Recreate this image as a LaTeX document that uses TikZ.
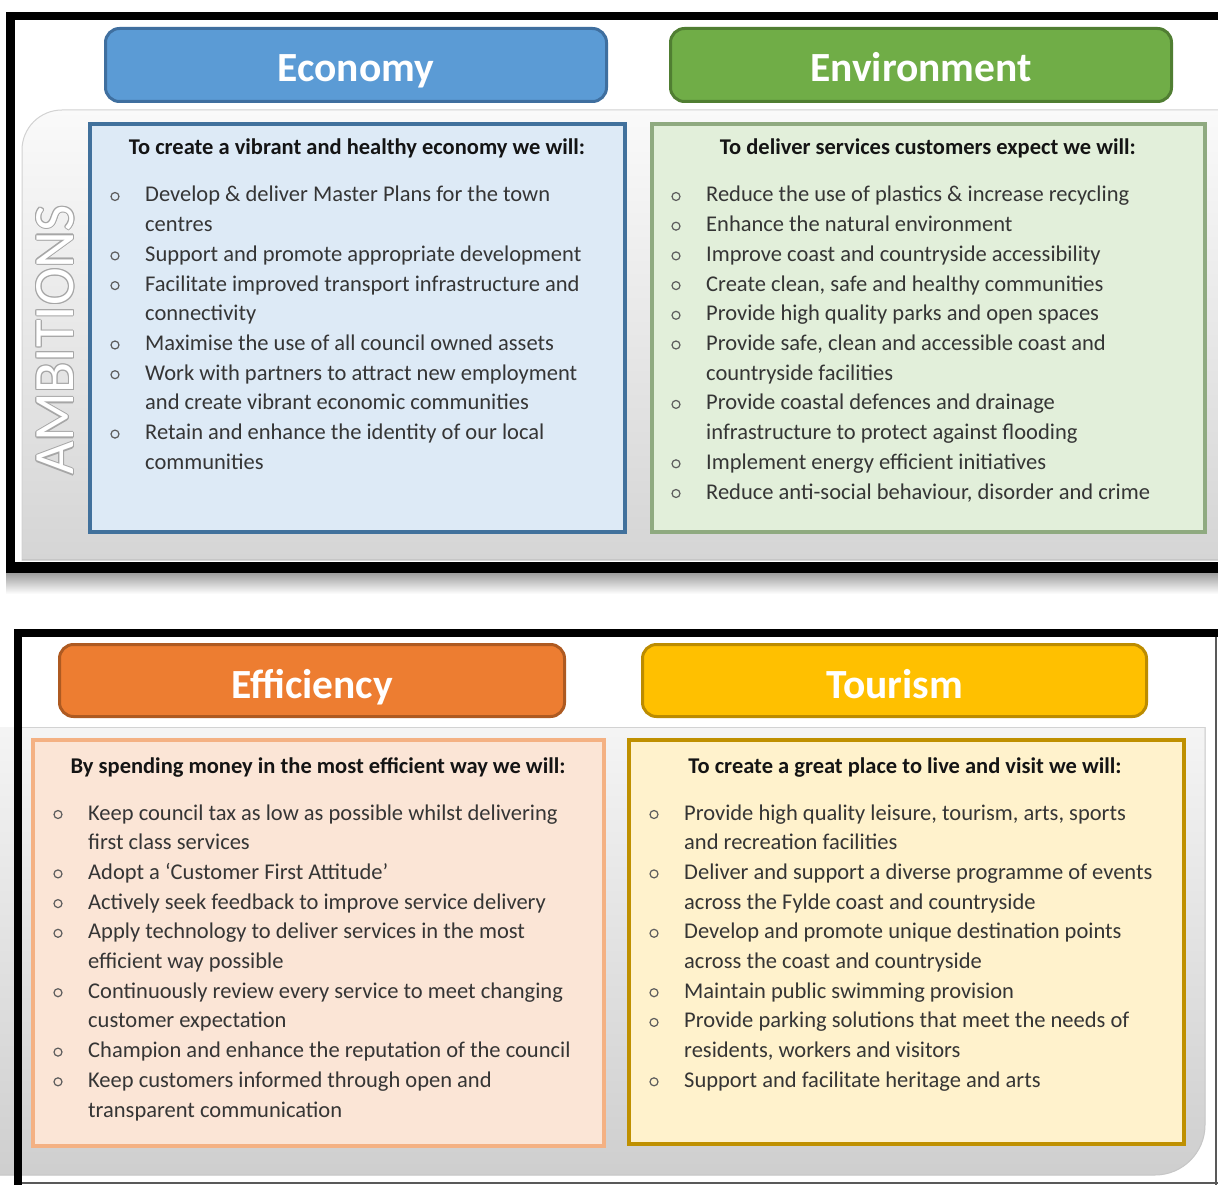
\documentclass[tikz,border=0pt]{standalone}
\usepackage{fontspec}
\setmainfont{Carlito}
\definecolor{txtc}{HTML}{353535}
\definecolor{econF}{HTML}{5B9BD5}\definecolor{econD}{HTML}{3F6F9F}
\definecolor{econBF}{HTML}{DDEAF6}\definecolor{econBD}{HTML}{41719C}
\definecolor{envF}{HTML}{70AD47}\definecolor{envD}{HTML}{507E32}
\definecolor{envBF}{HTML}{E2EFDA}\definecolor{envBD}{HTML}{8FAA80}
\definecolor{effF}{HTML}{ED7D31}\definecolor{effD}{HTML}{AE5A21}
\definecolor{effBF}{HTML}{FBE5D6}\definecolor{effBD}{HTML}{F4B183}
\definecolor{touF}{HTML}{FFC000}\definecolor{touD}{HTML}{BC8C00}
\definecolor{touBF}{HTML}{FFF2CC}\definecolor{touBD}{HTML}{BF9000}
\newcommand\lsk{29.7}
\newcommand\mklines[5]{%
  \foreach \mk/\lt [count=\i from 0] in {#5} {%
    \node[txt] (#1t\i) at ({#3},{#4+\i*\lsk}) {\lt};
    \ifnum\mk=1 \node[bul] (#1b\i) at ({#2},{#4+\i*\lsk-5.5}) {};\fi
  }%
}
\tikzset{
  txt/.style={anchor=base west,inner sep=0pt,text=txtc,font=\fontsize{22.5}{26}\selectfont},
  bul/.style={circle,draw=txtc!80,line width=1.2pt,minimum size=8pt,inner sep=0pt},
  lead/.style={anchor=base,inner sep=0pt,text=black!92,font=\fontsize{22.5}{26}\selectfont\bfseries},
  hdr/.style={rounded corners=14pt,line width=3pt,minimum height=73pt},
  hdrtxt/.style={anchor=base,inner sep=0pt,text=white,font=\fontsize{41.5}{44}\selectfont\bfseries},
  bx/.style={line width=4pt}
}
\begin{document}
\begin{tikzpicture}[x=1pt,y=-1pt]
\useasboundingbox (0,0) rectangle (1218,1185);
\fill[white] (0,0) rectangle (1218,1185);

% ---------- top panel ----------
\shade[top color=black!40,bottom color=white] (6,572) rectangle (1218,594);
\begin{scope}
\clip (0,0) rectangle (1218,560);
\shade[top color=gray!4,bottom color=gray!42,draw=gray!35,line width=1pt,rounded corners=40pt]
  (22,110) rectangle (1300,700);
\end{scope}
\draw[gray!45,line width=1pt] (22,559) -- (1218,559);
\fill[black] (6,12) rectangle (1218,20);
\fill[black] (6,12) rectangle (15,573);
\fill[black] (6,562) rectangle (1218,573);

% AMBITIONS outlined text
\foreach \dx/\dy [count=\k] in {1.1/0,-1.1/0,0/1.1,0/-1.1,0.8/0.8,-0.8/-0.8,0.8/-0.8,-0.8/0.8}
  \node[rotate=90,inner sep=0pt,text=gray!70,font=\fontsize{57}{60}\selectfont] (amb\k) at ({55+\dx},{340+\dy}) {AMBITIONS};
\node[rotate=90,inner sep=0pt,text=white,font=\fontsize{57}{60}\selectfont] (amb) at (55,340) {AMBITIONS};

\node[hdr,fill=econF,draw=econD,minimum width=501pt] (econ) at (356,65) {};
\node[hdr,fill=envF,draw=envD,minimum width=501pt] (env) at (921,65) {};
\node[hdrtxt] (econt) at (356,82) {Economy};
\node[hdrtxt] (envt) at (921,82) {Environment};

\node[bx,fill=econBF,draw=econBD,minimum width=535pt,minimum height=408pt] (econbox) at (357.5,328) {};
\node[bx,fill=envBF,draw=envBD,minimum width=553pt,minimum height=408pt] (envbox) at (928.5,328) {};

\node[lead] (econlead) at (357,155) {To create a vibrant and healthy economy we will:};
\node[lead] (envlead) at (928,155) {To deliver services customers expect we will:};

\mklines{ec}{115}{145}{202}{%
 1/{Develop \& deliver Master Plans for the town},
 0/{centres},
 1/{Support and promote appropriate development},
 1/{Facilitate improved transport infrastructure and},
 0/{connectivity},
 1/{Maximise the use of all council owned assets},
 1/{Work with partners to attract new employment},
 0/{and create vibrant economic communities},
 1/{Retain and enhance the identity of our local},
 0/{communities}}

\mklines{en}{676}{706}{202}{%
 1/{Reduce the use of plastics \& increase recycling},
 1/{Enhance the natural environment},
 1/{Improve coast and countryside accessibility},
 1/{Create clean, safe and healthy communities},
 1/{Provide high quality parks and open spaces},
 1/{Provide safe, clean and accessible coast and},
 0/{countryside facilities},
 1/{Provide coastal defences and drainage},
 0/{infrastructure to protect against flooding},
 1/{Implement energy efficient initiatives},
 1/{Reduce anti-social behaviour, disorder and crime}}

% ---------- bottom panel ----------
\begin{scope}
\clip (0,727) rectangle (1218,1185);
\shade[top color=white,bottom color=gray!38,draw=gray!45,line width=1pt,rounded corners=50pt]
  (-100,600) rectangle (1205,1175);
\end{scope}
\draw[gray!35,line width=1pt] (22,727) -- (1205,727);
\fill[black] (14,629) rectangle (1218,637);
\fill[black] (14,629) rectangle (22,1185);
\draw[gray!70!black,line width=1.2pt] (1216,637) -- (1216,1185);
\draw[gray!70!black,line width=1.5pt] (22,1183) -- (1218,1183);

\node[hdr,fill=effF,draw=effD,minimum width=505pt,minimum height=72pt] (eff) at (312,680.5) {};
\node[hdr,fill=touF,draw=touD,minimum width=504pt,minimum height=72pt] (tou) at (894.5,680.5) {};
\node[hdrtxt] (efft) at (312,698) {Efficiency};
\node[hdrtxt] (tout) at (894.5,698) {Tourism};

\node[bx,fill=effBF,draw=effBD,minimum width=571pt,minimum height=406pt] (effbox) at (318.5,943) {};
\node[bx,fill=touBF,draw=touBD,minimum width=555pt,minimum height=404pt] (toubox) at (906.5,942) {};

\node[lead] (efflead) at (318,773) {By spending money in the most efficient way we will:};
\node[lead] (toulead) at (905,773) {To create a great place to live and visit we will:};

\mklines{ef}{58}{88}{820}{%
 1/{Keep council tax as low as possible whilst delivering},
 0/{first class services},
 1/{Adopt a `Customer First Attitude'},
 1/{Actively seek feedback to improve service delivery},
 1/{Apply technology to deliver services in the most},
 0/{efficient way possible},
 1/{Continuously review every service to meet changing},
 0/{customer expectation},
 1/{Champion and enhance the reputation of the council},
 1/{Keep customers informed through open and},
 0/{transparent communication}}

\mklines{to}{654}{684}{820}{%
 1/{Provide high quality leisure, tourism, arts, sports},
 0/{and recreation facilities},
 1/{Deliver and support a diverse programme of events},
 0/{across the Fylde coast and countryside},
 1/{Develop and promote unique destination points},
 0/{across the coast and countryside},
 1/{Maintain public swimming provision},
 1/{Provide parking solutions that meet the needs of},
 0/{residents, workers and visitors},
 1/{Support and facilitate heritage and arts}}
\end{tikzpicture}
\end{document}
